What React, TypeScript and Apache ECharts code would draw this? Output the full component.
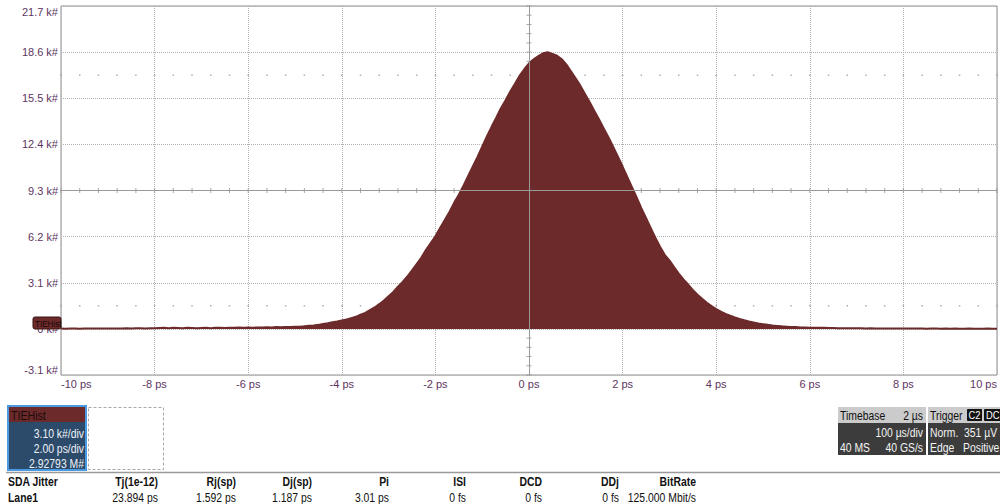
import React, { useEffect, useRef } from "react";
import * as echarts from "echarts";

// Histogram bins (ps) – bin centers from BIN_START in steps of BIN_WIDTH
const BIN_START = -10;
const BIN_WIDTH = 0.1;
// Counts in k# per bin
const counts: number[] = [
  // -10.0 .. -7.1
  0.02, 0.01, 0.02, 0.02, 0.01, 0.02, 0.03, 0.02, 0.02, 0.03,
  0.02, 0.03, 0.02, 0.03, 0.04, 0.03, 0.05, 0.04, 0.03, 0.05,
  0.04, 0.06, 0.08, 0.05, 0.07, 0.06, 0.05, 0.07, 0.06, 0.05,
  // -7.0 .. -6.1
  0.06, 0.07, 0.05, 0.07, 0.08, 0.06, 0.08, 0.07, 0.09, 0.08,
  // -6.0 .. -5.1
  0.09, 0.08, 0.1, 0.09, 0.11, 0.1, 0.12, 0.11, 0.13, 0.12,
  // -5.0 .. -4.1
  0.14, 0.15, 0.17, 0.21, 0.23, 0.27, 0.33, 0.38, 0.44, 0.49,
  // -4.0 .. -3.1
  0.56, 0.63, 0.72, 0.81, 0.95, 1.08, 1.26, 1.44, 1.66, 1.91,
  // -3.0 .. -2.1
  2.2, 2.48, 2.83, 3.15, 3.52, 3.93, 4.36, 4.79, 5.31, 5.77,
  // -2.0 .. -1.1
  6.22, 6.78, 7.31, 7.86, 8.47, 9.02, 9.63, 10.28, 10.92, 11.55,
  // -1.0 .. -0.1
  12.25, 12.93, 13.58, 14.19, 14.83, 15.37, 15.95, 16.48, 17.02, 17.45,
  // 0.0 .. 0.9
  17.85, 18.12, 18.34, 18.52, 18.6, 18.48, 18.36, 18.12, 17.76, 17.3,
  // 1.0 .. 1.9
  16.82, 16.33, 15.77, 15.22, 14.63, 14.05, 13.46, 12.87, 12.23, 11.58,
  // 2.0 .. 2.9
  10.91, 10.22, 9.53, 8.84, 8.12, 7.45, 6.79, 6.13, 5.52, 4.98,
  // 3.0 .. 3.9
  4.6, 4.15, 3.72, 3.33, 2.98, 2.62, 2.3, 2.02, 1.76, 1.53,
  // 4.0 .. 4.9
  1.33, 1.16, 1.01, 0.88, 0.77, 0.67, 0.58, 0.5, 0.43, 0.37,
  // 5.0 .. 5.9
  0.32, 0.27, 0.23, 0.2, 0.17, 0.15, 0.13, 0.12, 0.1, 0.09,
  // 6.0 .. 6.9
  0.08, 0.08, 0.07, 0.07, 0.06, 0.06, 0.05, 0.05, 0.05, 0.04,
  // 7.0 .. 7.9
  0.04, 0.04, 0.03, 0.04, 0.03, 0.03, 0.03, 0.02, 0.03, 0.02,
  // 8.0 .. 8.9
  0.02, 0.02, 0.03, 0.02, 0.02, 0.01, 0.02, 0.02, 0.01, 0.02,
  // 9.0 .. 10.0
  0.01, 0.02, 0.01, 0.01, 0.02, 0.01, 0.01, 0.01, 0.02, 0.01, 0.01,
];

// Axes
const X_MIN = -10;
const X_MAX = 10;
const X_STEP = 2;
const Y_MIN = -3.1;
const Y_MAX = 21.7;
const Y_STEP = 3.1;

// Panel texts
const traceName = "TIEHist";
const traceInfo = ["3.10 k#/div", "2.00 ps/div", "2.92793 M#"];
const tableHeaders = ["SDA Jitter", "Tj(1e-12)", "Rj(sp)", "Dj(sp)", "Pi", "ISI", "DCD", "DDj", "BitRate"];
const tableValues = ["Lane1", "23.894 ps", "1.592 ps", "1.187 ps", "3.01 ps", "0 fs", "0 fs", "0 fs", "125.000 Mbit/s"];
const timebase = { title: "Timebase", value: "2 µs", perDiv: "100 µs/div", samples: "40 MS", rate: "40 GS/s" };
const trigger = { title: "Trigger", ch: "C2", coupling: "DC", mode: "Norm.", level: "351 µV", type: "Edge", slope: "Positive" };

const MAROON = "#6d2a2b";
const LABEL_COLOR = "#5e3562";
const SANS = '"Liberation Sans", Arial, sans-serif';
const NARROW_SCALE = 0.8;

export default function App() {
  const ref = useRef<HTMLDivElement>(null);

  useEffect(() => {
    if (!ref.current) return;
    const chart = echarts.init(ref.current, undefined, { renderer: "svg" });

    const histData = counts.map((v, i) => [BIN_START + i * BIN_WIDTH, v]);

    // graticule decorations derived from axis divisions
    const xDivMinor = X_STEP / 5;
    const yDivMinor = Y_STEP / 5;
    const vTicks: number[][] = [];
    for (let k = 0; k <= Math.round((Y_MAX - Y_MIN) / yDivMinor); k++) vTicks.push([0, Y_MIN + k * yDivMinor]);
    const hTicks: number[][] = [];
    const dotRows: number[][] = [];
    const midY = (Y_MIN + Y_MAX) / 2;
    for (let k = 0; k <= Math.round((X_MAX - X_MIN) / xDivMinor); k++) {
      const x = X_MIN + k * xDivMinor;
      hTicks.push([x, midY]);
      dotRows.push([x, midY + 2.5 * Y_STEP]);
      dotRows.push([x, midY - 2.5 * Y_STEP]);
    }

    const txt = (x: number, y: number, text: string, opts: any = {}) => ({
      type: "text",
      x,
      y,
      z: 100,
      scaleX: opts.scaleX ?? NARROW_SCALE,
      style: {
        text,
        fill: opts.fill || "#111",
        font: opts.font || `13px ${SANS}`,
        textAlign: opts.align || "left",
        verticalAlign: "middle",
        textVerticalAlign: "middle",
      },
    });

    const colRight = [0, 158, 236, 312, 389, 466, 542, 619, 696];
    const tableEls: any[] = [];
    tableHeaders.forEach((h, i) => {
      if (i === 0) tableEls.push(txt(8, 481, h, { font: `bold 13px ${SANS}` }));
      else tableEls.push(txt(colRight[i], 481, h, { align: "right", font: `bold 13px ${SANS}` }));
    });
    tableValues.forEach((v, i) => {
      if (i === 0) tableEls.push(txt(8, 497, v, { font: `bold 13px ${SANS}` }));
      else tableEls.push(txt(colRight[i], 497, v, { align: "right" }));
    });

    const graphic: any[] = [
      // trace marker on zero level
      { type: "rect", z: 100, shape: { x: 33, y: 317, width: 28, height: 12, r: 2 }, style: { fill: MAROON, stroke: "#3a1414", lineWidth: 1 } },
      txt(35, 323.5, traceName, { font: `9px ${SANS}`, fill: "#150808", scaleX: 0.9 }),
      // trace info panel
      { type: "rect", z: 100, shape: { x: 8, y: 406, width: 78, height: 64 }, style: { fill: "#2c4b6b", stroke: "#4a9ae2", lineWidth: 2 } },
      { type: "rect", z: 100, shape: { x: 9, y: 407, width: 76, height: 15 }, style: { fill: MAROON } },
      txt(11, 415, traceName, { font: `12.5px ${SANS}`, fill: "#1a0b0b", scaleX: 0.85 }),
      txt(84, 433, traceInfo[0], { align: "right", font: `13px ${SANS}`, fill: "#eef2f7" }),
      txt(84, 448, traceInfo[1], { align: "right", font: `13px ${SANS}`, fill: "#eef2f7" }),
      txt(84, 463, traceInfo[2], { align: "right", font: `13px ${SANS}`, fill: "#eef2f7" }),
      // empty dashed slot
      { type: "rect", z: 100, shape: { x: 88.5, y: 407.5, width: 75, height: 62 }, style: { fill: "none", stroke: "#a8a8a8", lineWidth: 1, lineDash: [3, 2] } },
      // separator
      { type: "line", z: 100, shape: { x1: 6, y1: 472.5, x2: 1000, y2: 472.5 }, style: { stroke: "#9a9a9a", lineWidth: 1.5 } },
      // timebase panel
      { type: "rect", z: 100, shape: { x: 838, y: 407, width: 88, height: 16 }, style: { fill: "#cbcbcb" } },
      { type: "rect", z: 100, shape: { x: 838, y: 423, width: 88, height: 32 }, style: { fill: "#3c3c3c" } },
      txt(840, 415, timebase.title),
      txt(923, 415, timebase.value, { align: "right" }),
      txt(923, 432, timebase.perDiv, { align: "right", fill: "#f2f2f2" }),
      txt(840, 447, timebase.samples, { fill: "#f2f2f2" }),
      txt(923, 447, timebase.rate, { align: "right", fill: "#f2f2f2" }),
      // trigger panel
      { type: "rect", z: 100, shape: { x: 928, y: 407, width: 72, height: 16 }, style: { fill: "#cbcbcb" } },
      { type: "rect", z: 100, shape: { x: 928, y: 423, width: 72, height: 32 }, style: { fill: "#3c3c3c" } },
      txt(930, 415, trigger.title),
      { type: "rect", z: 100, shape: { x: 967, y: 409, width: 15, height: 12, r: 1 }, style: { fill: "#111" } },
      txt(974.5, 415, trigger.ch, { align: "center", font: `11px ${SANS}`, fill: "#fff", scaleX: 0.85 }),
      { type: "rect", z: 100, shape: { x: 984, y: 409, width: 18, height: 12, r: 1 }, style: { fill: "#111" } },
      txt(986, 415, trigger.coupling, { font: `11px ${SANS}`, fill: "#fff", scaleX: 0.85 }),
      txt(930, 432, trigger.mode, { fill: "#f2f2f2" }),
      txt(964, 432, trigger.level, { fill: "#f2f2f2" }),
      txt(930, 447, trigger.type, { fill: "#f2f2f2" }),
      txt(963, 447, trigger.slope, { fill: "#f2f2f2" }),
      ...tableEls,
    ];

    chart.setOption({
      animation: false,
      backgroundColor: "#ffffff",
      grid: { left: 61, top: 6, right: 0, bottom: 129, show: true, borderColor: "#8e8e8e", borderWidth: 1 },
      xAxis: {
        type: "value",
        min: X_MIN,
        max: X_MAX,
        interval: X_STEP,
        axisLine: { show: false },
        axisTick: { show: false },
        splitLine: { show: true, lineStyle: { color: "#b2b2b2", type: [1, 1], width: 1 } },
        axisLabel: {
          color: LABEL_COLOR,
          fontSize: 11,
          fontFamily: SANS,
          margin: 3,
          alignMinLabel: "left",
          alignMaxLabel: "right",
          formatter: (v: number) => `${Math.round(v)} ps`,
        },
      },
      yAxis: {
        type: "value",
        min: Y_MIN,
        max: Y_MAX,
        interval: Y_STEP,
        axisLine: { show: false },
        axisTick: { show: false },
        splitLine: { show: true, lineStyle: { color: "#b2b2b2", type: [1, 1], width: 1 } },
        axisLabel: {
          color: LABEL_COLOR,
          fontSize: 11,
          fontFamily: SANS,
          margin: 3,
          verticalAlignMinLabel: "bottom",
          verticalAlignMaxLabel: "top",
          formatter: (v: number) => (Math.abs(v) < 1e-6 ? "0 k#" : `${(Math.round(v * 10) / 10).toFixed(1)} k#`),
        },
      },
      series: [
        {
          type: "line",
          z: 1,
          data: [],
          silent: true,
          markLine: {
            silent: true,
            symbol: "none",
            label: { show: false },
            lineStyle: { color: "#9a9a9a", type: "solid", width: 1 },
            data: [{ xAxis: 0 }, { yAxis: midY }],
          },
        },
        {
          type: "scatter",
          z: 1,
          silent: true,
          symbol: "rect",
          symbolSize: [5, 1],
          itemStyle: { color: "#909090" },
          data: vTicks,
        },
        {
          type: "scatter",
          z: 1,
          silent: true,
          symbol: "rect",
          symbolSize: [1, 5],
          itemStyle: { color: "#909090" },
          data: hTicks,
        },
        {
          type: "scatter",
          z: 1,
          silent: true,
          symbol: "rect",
          symbolSize: 1.5,
          itemStyle: { color: "#9a9a9a" },
          data: dotRows,
        },
        {
          type: "line",
          z: 3,
          showSymbol: false,
          symbol: "none",
          silent: true,
          data: histData,
          lineStyle: { color: MAROON, width: 2 },
          areaStyle: { color: MAROON, opacity: 1 },
        },
      ],
      graphic,
    });

    return () => chart.dispose();
  }, []);

  return <div ref={ref} style={{ position: "fixed", left: 0, top: 0, width: 1000, height: 504 }} />;
}
